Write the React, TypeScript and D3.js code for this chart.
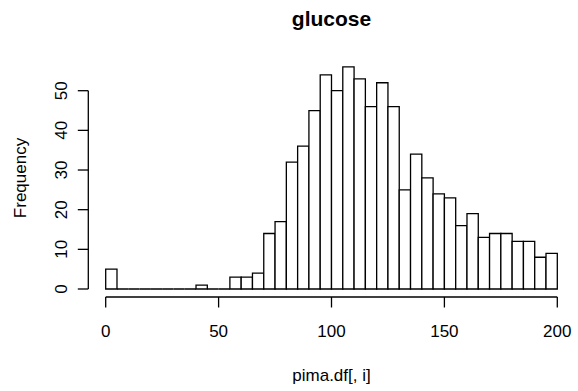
import React from "react";
import * as d3 from "d3";

const binStarts = d3.range(0, 200, 5);
const counts = [
  5, 0, 0, 0, 0, 0, 0, 0, 1, 0,
  0, 3, 3, 4, 14, 17, 32, 36, 45, 54,
  50, 56, 53, 46, 52, 46, 25, 34, 28, 24,
  23, 16, 19, 13, 14, 14, 12, 12, 8, 9,
];
const xTicks = [0, 50, 100, 150, 200];
const yTicks = [0, 10, 20, 30, 40, 50];
const title = "glucose";
const xLabel = "pima.df[, i]";
const yLabel = "Frequency";

export default function App() {
  const W = 578, H = 391;
  const x = d3.scaleLinear().domain([0, 200]).range([105.7, 557.3]);
  const y = d3.scaleLinear().domain([0, 50]).range([289, 90.7]);
  const font = "'Liberation Sans', Arial, sans-serif";
  const fs = 17;
  const axisY = 297;
  const axisX = 88.3;
  const tick = 10.5;
  return (
    <svg width={W} height={H} style={{ position: "absolute", left: 0, top: 0, background: "#fff" }} fontFamily={font}>
      <rect x={0} y={0} width={W} height={H} fill="#fff" />
      {counts.map((c, i) => {
        const x0 = x(binStarts[i]);
        const x1 = x(binStarts[i] + 5);
        const b = y(0);
        const t = y(c);
        return (
          <path
            key={i}
            d={`M${x0},${b}V${t}H${x1}V${b}Z`}
            fill="#fff"
            stroke="#000"
            strokeWidth={1.3}
          />
        );
      })}
      {/* x axis */}
      <line x1={x(0)} x2={x(200)} y1={axisY} y2={axisY} stroke="#000" strokeWidth={1.3} />
      {xTicks.map((t) => (
        <g key={t}>
          <line x1={x(t)} x2={x(t)} y1={axisY} y2={axisY + tick} stroke="#000" strokeWidth={1.3} />
          <text x={x(t)} y={336.7} fontSize={fs} textAnchor="middle">{t}</text>
        </g>
      ))}
      {/* y axis */}
      <line x1={axisX} x2={axisX} y1={y(0)} y2={y(50)} stroke="#000" strokeWidth={1.3} />
      {yTicks.map((t) => (
        <g key={t}>
          <line x1={axisX - tick} x2={axisX} y1={y(t)} y2={y(t)} stroke="#000" strokeWidth={1.3} />
          <text transform={`translate(66.7,${y(t)}) rotate(-90)`} fontSize={fs} textAnchor="middle">{t}</text>
        </g>
      ))}
      <text x={331.5} y={26} fontSize={21} fontWeight="bold" textAnchor="middle">{title}</text>
      <text x={331.5} y={381} fontSize={fs} textAnchor="middle">{xLabel}</text>
      <text transform={`translate(26,178) rotate(-90)`} fontSize={fs} textAnchor="middle">{yLabel}</text>
    </svg>
  );
}
